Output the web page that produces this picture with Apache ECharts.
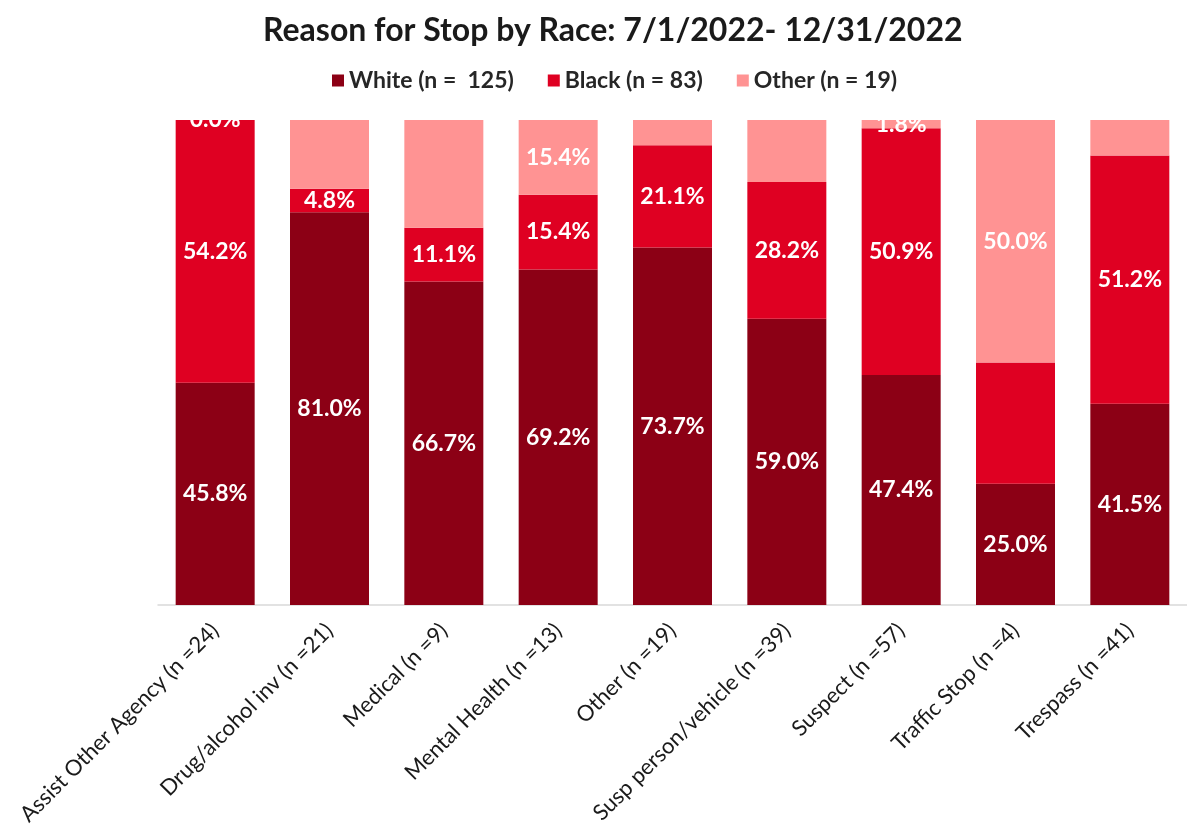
<!DOCTYPE html>
<html>
<head>
<meta charset="utf-8">
<script src="https://cdn.jsdelivr.net/npm/echarts@6/dist/echarts.min.js"></script>
<style>
html,body{margin:0;padding:0;background:#fff;}
#chart{width:1187px;height:838px;}
</style>
</head>
<body>
<div id="chart"></div>
<script>
const categories = ["Assist Other Agency (n =24)", "Drug/alcohol inv (n =21)", "Medical (n =9)", "Mental Health (n =13)", "Other (n =19)", "Susp person/vehicle (n =39)", "Suspect (n =57)", "Traffic Stop (n =4)", "Trespass (n =41)"];
const seriesNames = ["White (n =  125)", "Black (n = 83)", "Other (n = 19)"];
const whiteValues = [45.8, 81.0, 66.7, 69.2, 73.7, 59.0, 47.4, 25.0, 41.5];
const blackValues = [54.2, 4.8, 11.1, 15.4, 21.1, 28.2, 50.9, 25.0, 51.2];
const otherValues = [0.0, 14.3, 22.2, 15.4, 5.3, 12.8, 1.8, 50.0, 7.3];
const whiteLabelShown = [true, true, true, true, true, true, true, true, true];
const blackLabelShown = [true, true, true, true, true, true, true, false, true];
const otherLabelShown = [true, false, false, true, false, false, true, true, false];

const colors = ["#8c0015", "#df0022", "#ff9393"];
const font = "Lato, 'Noto Sans', sans-serif";

function mk(vals, shown){
  return vals.map((v,i)=>({value:v, label:{show:shown[i]}}));
}
const seriesData = [mk(whiteValues, whiteLabelShown), mk(blackValues, blackLabelShown), mk(otherValues, otherLabelShown)];

const chart = echarts.init(document.getElementById('chart'));
chart.setOption({
  animation:false,
  color: colors,
  title:{
    text:"Reason for Stop by Race: 7/1/2022- 12/31/2022",
    left:258, top:10,
    textStyle:{fontFamily:font, fontWeight:'bold', fontSize:32, color:'#1a1a1a'}
  },
  legend:{
    top:64, left:327, itemWidth:12, itemHeight:12, itemGap:34,
    icon:'rect',
    textStyle:{fontFamily:font, fontWeight:'bold', fontSize:23, color:'#262626'},
    data: seriesNames
  },
  grid:{left:158, width:1042, top:120, height:485, containLabel:false},
  xAxis:{
    type:'category', data:categories,
    axisLine:{lineStyle:{color:'#d9d9d9', width:1.5}},
    axisTick:{show:false},
    axisLabel:{rotate:45, interval:0, margin:22, fontFamily:font, fontSize:22, color:'#1a1a1a'}
  },
  yAxis:{type:'value', min:0, max:100, show:false, splitLine:{show:false}},
  series: seriesNames.map((n,k)=>({
    name:n, type:'bar', stack:'total', barWidth:79,
    data: seriesData[k],
    label:{position:'inside', color:'#fff', fontFamily:font, fontWeight:'bold', fontSize:23,
      formatter:p=>p.value.toFixed(1)+'%'}
  })),
  graphic:[{type:'rect', z:100, shape:{x:150, y:96, width:1037, height:24}, style:{fill:'#fff'}}]
});
</script>
</body>
</html>
